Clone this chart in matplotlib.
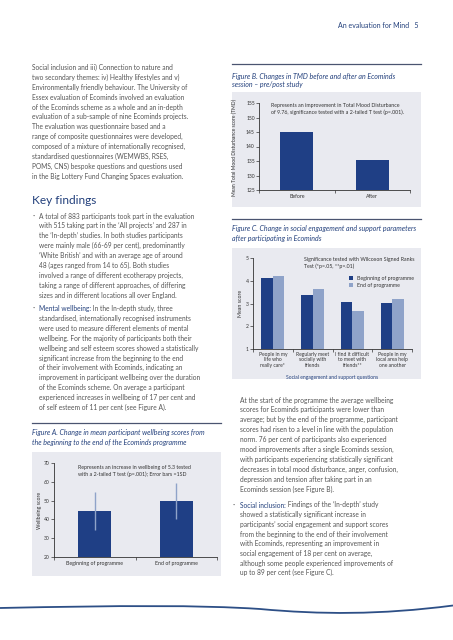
import matplotlib
matplotlib.use('Agg')
import matplotlib.pyplot as plt
import numpy as np
from matplotlib.patches import Rectangle, PathPatch
from matplotlib.path import Path

W, H = 453, 640

# figure A data
a_labels = ['Beginning of programme', 'End of programme']
a_values = [44.5, 49.8]
a_errors = [10.3, 9.8]
a_ticks = [20, 30, 40, 50, 60, 70]

# figure B data
b_labels = ['Before', 'After']
b_values = [145.0, 135.2]
b_ticks = [125, 130, 135, 140, 145, 150, 155]

# figure C data
c_labels = ['People in my\nlife who\nreally care*', 'Regularly meet\nsocially with\nfriends',
            'I find it difficult\nto meet with\nfriends**', 'People in my\nlocal area help\none another']
c_begin = [4.13, 3.38, 3.07, 3.02]
c_end = [4.22, 3.64, 2.67, 3.20]
c_ticks = [1, 2, 3, 4, 5]

DARK = '#1f3f85'
LIGHT = '#8fa3c9'
PANEL = '#e9eaf0'
BODY = '#555555'
HEAD = '#23407c'
AXC = '#333333'

left_intro = [
    'Social inclusion and iii) Connection to nature and',
    'two secondary themes: iv) Healthy lifestyles and v)',
    'Environmentally friendly behaviour. The University of',
    'Essex evaluation of Ecominds involved an evaluation',
    'of the Ecominds scheme as a whole and an in-depth',
    'evaluation of a sub-sample of nine Ecominds projects.',
    'The evaluation was questionnaire based and a',
    'range of composite questionnaires were developed,',
    'composed of a mixture of internationally recognised,',
    'standardised questionnaires (WEMWBS, RSES,',
    'POMS, CNS) bespoke questions and questions used',
    'in the Big Lottery Fund Changing Spaces evaluation.',
]
bullet1 = [
    'A total of 883 participants took part in the evaluation',
    'with 515 taking part in the \u2018All projects\u2019 and 287 in',
    'the \u2018In-depth\u2019 studies. In both studies participants',
    'were mainly male (66-69 per cent), predominantly',
    '\u2018White British\u2019 and with an average age of around',
    '48 (ages ranged from 14 to 65). Both studies',
    'involved a range of different ecotherapy projects,',
    'taking a range of different approaches, of differing',
    'sizes and in different locations all over England.',
]
bullet2 = [
    ' In the In-depth study, three',
    'standardised, internationally recognised instruments',
    'were used to measure different elements of mental',
    'wellbeing. For the majority of participants both their',
    'wellbeing and self esteem scores showed a statistically',
    'significant increase from the beginning to the end',
    'of their involvement with Ecominds, indicating an',
    'improvement in participant wellbeing over the duration',
    'of the Ecominds scheme. On average a participant',
    'experienced increases in wellbeing of 17 per cent and',
    'of self esteem of 11 per cent (see Figure A).',
]
right_para = [
    'At the start of the programme the average wellbeing',
    'scores for Ecominds participants were lower than',
    'average; but by the end of the programme, participant',
    'scores had risen to a level in line with the population',
    'norm. 76 per cent of participants also experienced',
    'mood improvements after a single Ecominds session,',
    'with participants experiencing statistically significant',
    'decreases in total mood disturbance, anger, confusion,',
    'depression and tension after taking part in an',
    'Ecominds session (see Figure B).',
]
bullet3 = [
    ' Findings of the \u2018In-depth\u2019 study',
    'showed a statistically significant increase in',
    'participants\u2019 social engagement and support scores',
    'from the beginning to the end of their involvement',
    'with Ecominds, representing an improvement in',
    'social engagement of 18 per cent on average,',
    'although some people experienced improvements of',
    'up to 89 per cent (see Figure C).',
]

plt.rcParams['font.family'] = ['Lato', 'DejaVu Sans']

fig = plt.figure(figsize=(W / 100, H / 100), dpi=100)
fig.patch.set_facecolor('white')

BS = 4.8  # body text size


def fx(x):
    return x / W


def fy(y):
    return 1 - y / H


def box(x0, y0, x1, y1):
    return [fx(x0), fy(y1), fx(x1) - fx(x0), fy(y0) - fy(y1)]


def txt(x, y, s, size=BS, color=BODY, **kw):
    return fig.text(fx(x), fy(y), s, fontsize=size, color=color, va='center', **kw)


def lines(x, y0, rows, step=9.9, **kw):
    for i, r in enumerate(rows):
        txt(x, y0 + i * step, r, **kw)


def lead_in(x, y, head, rest):
    t = txt(x, y, head, color=HEAD)
    fig.canvas.draw()
    bb = t.get_window_extent()
    txt(bb.x1 * W / fig.bbox.width, y, rest)


# header
txt(419, 25, 'An evaluation for Mind   5', size=5.0, color=HEAD, ha='right')

# left column body text
lines(32, 67.5, left_intro)
txt(32, 200.5, 'Key findings', size=8.6, color=HEAD)
txt(32.5, 216, '\u00b7', size=6, color=BODY)
lines(39, 216, bullet1)
txt(32.5, 308.5, '\u00b7', size=6, color=BODY)
lead_in(39, 308.5, 'Mental wellbeing:', bullet2[0])
lines(39, 318.4, bullet2[1:])

# right column text
lines(240, 400, right_para)
txt(232.5, 505, '\u00b7', size=6, color=BODY)
lead_in(240, 505, 'Social inclusion:', bullet3[0])
lines(240, 514.7, bullet3[1:], step=9.7)

# separators and captions
sep = dict(color='#4a5470', lw=0.9)
fig.add_artist(plt.Line2D([fx(32), fx(221)], [fy(422.5), fy(422.5)], **sep))
fig.add_artist(plt.Line2D([fx(232), fx(421)], [fy(64), fy(64)], **sep))
fig.add_artist(plt.Line2D([fx(232), fx(421)], [fy(219), fy(219)], **sep))
cap = dict(size=5.0, color=HEAD, style='italic')
txt(32, 433, 'Figure A. Change in mean participant wellbeing scores from', **cap)
txt(32, 442, 'the beginning to the end of the Ecominds programme', **cap)
txt(232, 76, 'Figure B. Changes in TMD before and after an Ecominds', **cap)
txt(232, 85, 'session \u2013 pre/post study', **cap)
txt(232, 229, 'Figure C. Change in social engagement and support parameters', **cap)
txt(232, 238, 'after participating in Ecominds', **cap)

# panel backgrounds
for x0, y0, x1, y1 in [(32, 452, 221, 576), (232, 92, 421, 207), (232, 248, 421, 379)]:
    fig.add_artist(Rectangle((fx(x0), fy(y1)), fx(x1) - fx(x0), fy(y0) - fy(y1),
                             transform=fig.transFigure, facecolor=PANEL, edgecolor='none',
                             zorder=0))


def style_axes(ax, ncat):
    ax.set_facecolor('none')
    for s in ['top', 'right']:
        ax.spines[s].set_visible(False)
    for s in ['left', 'bottom']:
        ax.spines[s].set_color(AXC)
        ax.spines[s].set_linewidth(0.6)
    ax.tick_params(axis='y', labelsize=3.6, length=2, width=0.5, pad=1, colors=AXC)
    ax.tick_params(axis='x', which='major', length=0, labelsize=3.8, pad=3, colors=AXC)
    ax.set_xticks(np.arange(-0.5, ncat, 1.0), minor=True)
    ax.tick_params(axis='x', which='minor', length=2, width=0.5, colors=AXC)
    ax.set_xlim(-0.5, ncat - 0.5)


# figure A
ax = fig.add_axes(box(54, 463, 217, 557))
x = np.arange(len(a_labels))
ax.bar(x, a_values, width=0.41, color=DARK, zorder=2)
ax.errorbar(x, a_values, yerr=a_errors, fmt='none', ecolor=LIGHT, elinewidth=1.0,
            capsize=0, zorder=3)
ax.set_ylim(a_ticks[0], a_ticks[-1])
ax.set_yticks(a_ticks)
ax.set_xticks(x)
ax.set_xticklabels(a_labels)
style_axes(ax, len(a_labels))
txt(39, 510, 'Wellbeing score', size=3.8, color=AXC, rotation=90, ha='center')
txt(78, 467, 'Represents an increase in wellbeing of 5.3 tested', size=3.8, color=AXC)
txt(78, 474, 'with a 2-tailed T test (p=.001); Error bars =1SD', size=3.8, color=AXC)

# figure B
ax = fig.add_axes(box(259, 103, 410, 190))
x = np.arange(len(b_labels))
ax.bar(x, np.array(b_values) - b_ticks[0], bottom=b_ticks[0], width=0.44, color=DARK, zorder=2)
ax.set_ylim(b_ticks[0], b_ticks[-1])
ax.set_yticks(b_ticks)
ax.set_xticks(x)
ax.set_xticklabels(b_labels)
style_axes(ax, len(b_labels))
txt(234.5, 147, 'Mean Total Mood Disturbance score (TMD)', size=3.6, color=AXC,
    rotation=90, ha='center')
txt(271, 105, 'Represents an improvement in Total Mood Disturbance', size=3.8, color=AXC)
txt(271, 112, 'of 9.76, significance tested with a 2-tailed T test (p=.001).', size=3.8, color=AXC)

# figure C
ax = fig.add_axes(box(253, 258, 412, 349))
x = np.arange(len(c_labels))
bw = 0.29
ax.bar(x - bw / 2, c_begin, width=bw, color=DARK, label='Beginning of programme', zorder=2)
ax.bar(x + bw / 2, c_end, width=bw, color=LIGHT, label='End of programme', zorder=2)
ax.set_ylim(c_ticks[0], c_ticks[-1])
ax.set_yticks(c_ticks)
ax.set_xticks(x)
ax.set_xticklabels(c_labels, linespacing=1.1)
style_axes(ax, len(c_labels))
ax.tick_params(axis='x', which='major', labelsize=3.6, pad=2)
ax.legend(loc='upper left', bbox_to_anchor=(fx(346), fy(273)), bbox_transform=fig.transFigure,
          frameon=False, fontsize=3.8, handlelength=0.9, handleheight=0.9,
          handletextpad=0.6, labelspacing=0.45, borderpad=0, labelcolor=AXC)
txt(240, 303, 'Mean score', size=3.8, color=AXC, rotation=90, ha='center')
txt(304, 260, 'Significance tested with Wilcoxon Signed Ranks', size=3.8, color=AXC)
txt(304, 266.5, 'Test (*p=.05, **p=.01)', size=3.8, color=AXC)
txt(332, 377, 'Social engagement and support questions', size=3.6, color=HEAD, ha='center')

# decorative curve at the bottom of the page
verts = [(0, 608), (120, 605.5), (200, 605), (260, 609), (320, 614.5), (380, 615),
         (453, 605.5)]
codes = [Path.MOVETO, Path.CURVE4, Path.CURVE4, Path.CURVE4, Path.CURVE4, Path.CURVE4,
         Path.CURVE4]
path = Path([(fx(a), fy(b)) for a, b in verts], codes)
fig.add_artist(PathPatch(path, transform=fig.transFigure, facecolor='none',
                         edgecolor='#2d4f86', lw=1.3))

fig.savefig('out.png', dpi=100)
